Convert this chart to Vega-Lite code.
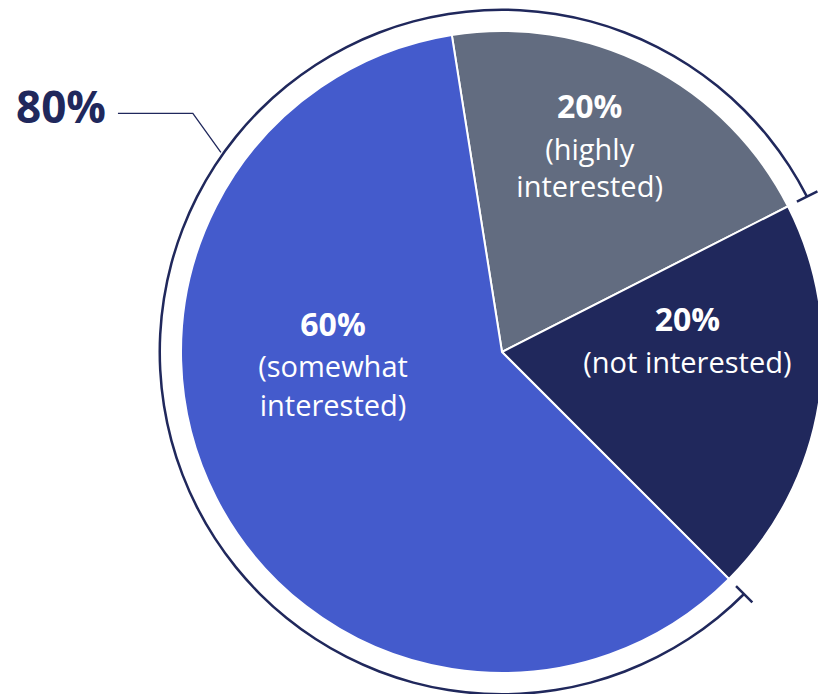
{
  "$schema": "https://vega.github.io/schema/vega-lite/v6.json",
  "width": 632,
  "height": 684,
  "autosize": {"type": "none"},
  "padding": {"left": 186, "top": 10, "right": 0, "bottom": 0},
  "background": "white",
  "config": {"view": {"stroke": null}},
  "datasets": {
    "slices": [
      {"category": "highly interested", "value": 20, "rank": 1, "pct": "20%", "desc": "(highly\ninterested)"},
      {"category": "not interested", "value": 20, "rank": 2, "pct": "20%", "desc": "(not interested)"},
      {"category": "somewhat interested", "value": 60, "rank": 3, "pct": "60%", "desc": "(somewhat\ninterested)"}
    ],
    "bracket": [{"start": 40, "end": 120}],
    "ticks": [{"at": 40}, {"at": 120}],
    "callout": [
      {"i": 1, "x": -1.123, "y": 0.698},
      {"i": 2, "x": -0.904, "y": 0.698},
      {"i": 3, "x": -0.822, "y": 0.584}
    ],
    "callout_label": [{"x": -1.158, "y": 0.708, "text": "80%"}]
  },
  "layer": [
    {
      "data": {"name": "slices"},
      "mark": {"type": "arc", "radius": 321, "stroke": "white", "strokeWidth": 2},
      "encoding": {
        "theta": {"field": "value", "type": "quantitative", "stack": true, "scale": {"domain": [0, 100], "range": [-0.1571, 6.1261]}},
        "order": {"field": "rank"},
        "color": {"field": "category", "type": "nominal", "legend": null,
          "scale": {"domain": ["highly interested", "not interested", "somewhat interested"], "range": ["#626c80", "#20285c", "#445bcc"]}}
      }
    },
    {
      "data": {"name": "bracket"},
      "mark": {"type": "arc", "radius": 343.5, "radius2": 341, "fill": "#20285c"},
      "encoding": {
        "theta": {"field": "start", "type": "quantitative", "stack": null, "scale": {"domain": [0, 100], "range": [-0.1571, 6.1261]}},
        "theta2": {"field": "end"}
      }
    },
    {
      "data": {"name": "ticks"},
      "mark": {"type": "arc", "radius": 354, "radius2": 331, "fill": null, "stroke": "#20285c", "strokeWidth": 2.5},
      "encoding": {
        "theta": {"field": "at", "type": "quantitative", "stack": null, "scale": {"domain": [0, 100], "range": [-0.1571, 6.1261]}},
        "theta2": {"field": "at"}
      }
    },
    {
      "data": {"name": "slices"},
      "mark": {"type": "text", "radius": 259, "thetaOffset": -0.126, "font": "Open Sans", "fontWeight": "bold", "fontSize": 32, "fill": "white", "align": "center", "baseline": "middle"},
      "encoding": {
        "theta": {"field": "value", "type": "quantitative", "stack": true, "scale": {"domain": [0, 100], "range": [-0.1571, 6.1261]}},
        "order": {"field": "rank"},
        "text": {"condition": {"test": "datum.category === 'highly interested'", "field": "pct"}, "value": ""}
      }
    },
    {
      "data": {"name": "slices"},
      "mark": {"type": "text", "radius": 259, "thetaOffset": -0.126, "dy": 43, "lineBreak": "\n", "lineHeight": 37, "font": "Open Sans", "fontSize": 29, "fill": "white", "align": "center", "baseline": "middle"},
      "encoding": {
        "theta": {"field": "value", "type": "quantitative", "stack": true, "scale": {"domain": [0, 100], "range": [-0.1571, 6.1261]}},
        "order": {"field": "rank"},
        "text": {"condition": {"test": "datum.category === 'highly interested'", "field": "desc"}, "value": ""}
      }
    },
    {
      "data": {"name": "slices"},
      "mark": {"type": "text", "radius": 188, "thetaOffset": -0.325, "font": "Open Sans", "fontWeight": "bold", "fontSize": 32, "fill": "white", "align": "center", "baseline": "middle"},
      "encoding": {
        "theta": {"field": "value", "type": "quantitative", "stack": true, "scale": {"domain": [0, 100], "range": [-0.1571, 6.1261]}},
        "order": {"field": "rank"},
        "text": {"condition": {"test": "datum.category === 'not interested'", "field": "pct"}, "value": ""}
      }
    },
    {
      "data": {"name": "slices"},
      "mark": {"type": "text", "radius": 188, "thetaOffset": -0.325, "dy": 43, "lineBreak": "\n", "lineHeight": 37, "font": "Open Sans", "fontSize": 29, "fill": "white", "align": "center", "baseline": "middle"},
      "encoding": {
        "theta": {"field": "value", "type": "quantitative", "stack": true, "scale": {"domain": [0, 100], "range": [-0.1571, 6.1261]}},
        "order": {"field": "rank"},
        "text": {"condition": {"test": "datum.category === 'not interested'", "field": "desc"}, "value": ""}
      }
    },
    {
      "data": {"name": "slices"},
      "mark": {"type": "text", "radius": 171, "thetaOffset": 0.625, "font": "Open Sans", "fontWeight": "bold", "fontSize": 32, "fill": "white", "align": "center", "baseline": "middle"},
      "encoding": {
        "theta": {"field": "value", "type": "quantitative", "stack": true, "scale": {"domain": [0, 100], "range": [-0.1571, 6.1261]}},
        "order": {"field": "rank"},
        "text": {"condition": {"test": "datum.category === 'somewhat interested'", "field": "pct"}, "value": ""}
      }
    },
    {
      "data": {"name": "slices"},
      "mark": {"type": "text", "radius": 171, "thetaOffset": 0.625, "dy": 42, "lineBreak": "\n", "lineHeight": 39, "font": "Open Sans", "fontSize": 29, "fill": "white", "align": "center", "baseline": "middle"},
      "encoding": {
        "theta": {"field": "value", "type": "quantitative", "stack": true, "scale": {"domain": [0, 100], "range": [-0.1571, 6.1261]}},
        "order": {"field": "rank"},
        "text": {"condition": {"test": "datum.category === 'somewhat interested'", "field": "desc"}, "value": ""}
      }
    },
    {
      "data": {"name": "callout"},
      "mark": {"type": "line", "stroke": "#20285c", "strokeWidth": 1.3},
      "encoding": {
        "x": {"field": "x", "type": "quantitative", "axis": null, "scale": {"domain": [-0.924, 0.924], "nice": false, "zero": false}},
        "y": {"field": "y", "type": "quantitative", "axis": null, "scale": {"domain": [-1, 1], "nice": false, "zero": false}},
        "order": {"field": "i"}
      }
    },
    {
      "data": {"name": "callout_label"},
      "mark": {"type": "text", "font": "Open Sans", "fontWeight": "bold", "fontSize": 44, "fill": "#20285c", "align": "right", "baseline": "middle"},
      "encoding": {
        "x": {"field": "x", "type": "quantitative", "axis": null, "scale": {"domain": [-0.924, 0.924], "nice": false, "zero": false}},
        "y": {"field": "y", "type": "quantitative", "axis": null, "scale": {"domain": [-1, 1], "nice": false, "zero": false}},
        "text": {"field": "text"}
      }
    }
  ]
}
